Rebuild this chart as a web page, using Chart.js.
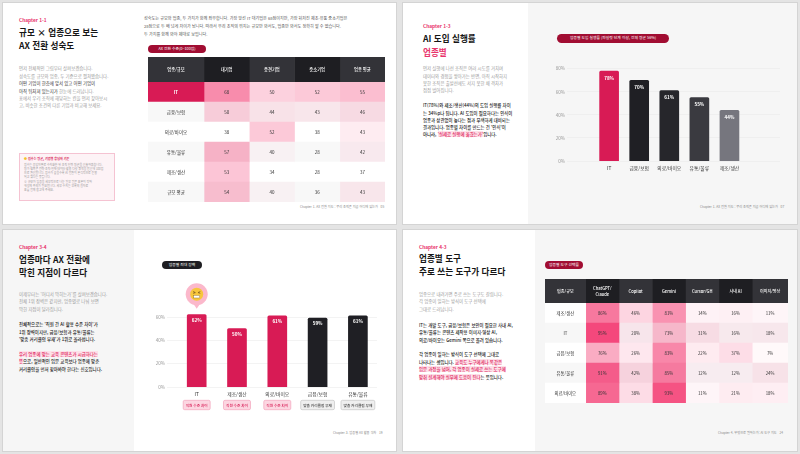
<!DOCTYPE html>
<html lang="ko">
<head>
<meta charset="utf-8">
<title>AX 전환 리포트 - 업종별 비교</title>
<script src="https://cdn.jsdelivr.net/npm/chart.js"></script>
<style>
  body { margin:0; width:800px; height:454px; background:#e4e4e4; position:relative; overflow:hidden;
         font-family:"Noto Sans CJK KR","Noto Sans",sans-serif; }
  .slide { position:absolute; background:#fff; border:1px solid #d4d4d4; box-sizing:border-box; }
  .shade { position:absolute; background:#f6f6f6; }
  .abs { position:absolute; white-space:nowrap; }
  .chap { font-size:4.8px; font-weight:700; color:#e8336b; line-height:6px; }
  .ttl { font-size:8.6px; font-weight:700; color:#151515; }
  .gray { font-size:4.4px; color:#9a9a9a; line-height:7.3px; }
  .bold { font-size:4.4px; color:#222; font-weight:500; line-height:7.3px; }
  .dark { color:#333; }
  .hl { background:#fde1e9; color:#e0245e; }
  .pill { position:absolute; border-radius:5px; color:#fff; font-size:3.8px; text-align:center; white-space:nowrap; }
  .foot { font-size:3.2px; color:#8a8a8a; line-height:4px; }
  .note { position:absolute; left:19px; top:153px; width:96px; height:48px; box-sizing:border-box;
          background:#fdf3f6; border:0.6px solid #f5c3d2; }
  .note div { position:absolute; left:4px; white-space:nowrap; font-size:2.9px; color:#9a9a9a; line-height:4.1px; }
  canvas { position:absolute; }
</style>
</head>
<body>
  <!-- slide frames -->
  <div class="slide" style="left:2px;top:2px;width:395px;height:223px"></div>
  <div class="slide" style="left:402px;top:2px;width:396px;height:223px"></div>
  <div class="slide" style="left:2px;top:229px;width:395px;height:223px"></div>
  <div class="slide" style="left:402px;top:229px;width:396px;height:223px"></div>
  <div class="shade" style="left:528px;top:3px;width:269px;height:221px"></div>
  <div class="shade" style="left:3px;top:230px;width:131px;height:221px"></div>
  <div class="shade" style="left:535px;top:230px;width:262px;height:221px"></div>

  <!-- Chapter 1-1 -->
  <div class="abs chap" style="left:19px;top:17.3px">Chapter 1-1</div>
  <div class="abs ttl" style="left:19px;top:26px;line-height:12.7px">규모 × 업종으로 보는<br>AX 전환 성숙도</div>
  <div class="abs gray" style="left:19px;top:65.3px;line-height:7.4px">
    먼저 전체적인 그림부터 살펴보겠습니다.<br>
    성숙도를 규모와 업종, 두 기준으로 펼쳐봤습니다.<br>
    <span class="dark">어떤 기업이 한층에 앞서 있고 어떤 기업이</span><br>
    <span class="dark">아직 뒤처져 있는지가</span> 한눈에 드러납니다.<br>
    표에서 우리 조직에 해당하는 칸을 먼저 찾아보시<br>
    고, 비슷한 조건의 다른 기업과 비교해 보세요.
  </div>
  <div class="note">
    <div style="top:3px;color:#d81b55;font-weight:700;font-size:3.1px"><span style="color:#f5c02f">●</span> 점수는 평균, 기업별 응답자 기준</div>
    <div style="top:9.2px">점수는 응답자별로 수치화한 뒤 조직 단위 평균을 산출하였습니다.</div>
    <div style="top:13.2px">평가 항목은 전략·조직·인재·데이터·활용 다섯 영역을 합산해 100점</div>
    <div style="top:17.2px">으로 환산합니다. 점수가 높을수록 AI 전환이 본격적으로 진행</div>
    <div style="top:21.2px">되고 있다는 뜻입니다.</div>
    <div style="top:26.2px">※ 규모와 업종을 세부적으로 나눈 일부 칸은 표본이 작아</div>
    <div style="top:30.2px">해석에 주의가 필요합니다. 세부 수치는 부록의 원자료</div>
    <div style="top:34.2px">표를 함께 참고해 주세요.</div>
  </div>
  <div class="abs gray" style="left:144px;top:15.2px;line-height:7.7px;color:#555;font-size:4.1px">
    성숙도는 규모와 업종, 두 가지가 함께 좌우합니다. 가장 앞선 IT 대기업은 68점이지만, 가장 뒤처진 제조·유통 중소기업은<br>
    28점으로 두 배 넘게 차이가 납니다. 따라서 우리 조직의 위치는 규모만 봐서도, 업종만 봐서도 정확히 알 수 없습니다.<br>
    두 가지를 함께 봐야 제대로 보입니다.
  </div>
  <div class="pill" style="left:148px;top:45px;width:58px;height:8px;line-height:8px;background:#a10d32">AX 전환 수준(0~100점)</div>
  <canvas id="sizeHead" width="237" height="25" style="left:148px;top:57px"></canvas>
  <canvas id="sizeBody" width="237" height="120" style="left:148px;top:82px"></canvas>
  <div class="abs foot" style="left:300px;top:204.7px">Chapter 1. AX 전환 지도 : 우리 조직은 지금 어디에 있는가 &nbsp;&nbsp;05</div>

  <!-- Chapter 1-3 -->
  <div class="abs chap" style="left:423px;top:22.7px">Chapter 1-3</div>
  <div class="abs ttl" style="left:423px;top:30.7px;line-height:14px">AI 도입 실행률<br><span style="color:#e8336b">업종별</span></div>
  <div class="abs gray" style="left:423px;top:65.3px">
    먼저 실행에 나선 조직은 여러 시도를 거치며<br>
    데이터와 경험을 쌓아가는 반면, 아직 시작하지<br>
    못한 조직은 출발선에도 서지 못한 채 격차가<br>
    점점 벌어집니다.
  </div>
  <div class="abs bold" style="left:423px;top:102.3px">
    IT(78%)와 제조/생산(44%)의 도입 실행률 차이<br>
    는 34%p나 됩니다. AI 도입이 필요하다는 인식이<br>
    업종과 상관없이 높다는 점과 무색하게 대비되는<br>
    결과입니다. 업종별 차이를 만드는 건 '인식'이<br>
    아니라, <span class="hl">'실제로 실행에 옮겼는가'</span>입니다.
  </div>
  <div class="pill" style="left:557px;top:34.3px;width:112px;height:8.4px;line-height:8.4px;background:#a10d32">업종별 도입 실행률 (파일럿 단계 이상, 전체 평균 56%)</div>
  <canvas id="adoptChart" width="235" height="120" style="left:550px;top:55px"></canvas>
  <div class="abs foot" style="left:700px;top:204.7px">Chapter 1. AX 전환 지도 : 우리 조직은 지금 어디에 있는가 &nbsp;&nbsp;07</div>

  <!-- Chapter 3-4 -->
  <div class="abs chap" style="left:19px;top:244.3px">Chapter 3-4</div>
  <div class="abs ttl" style="left:19px;top:253px;line-height:12.7px">업종마다 AX 전환에<br>막힌 지점이 다르다</div>
  <div class="abs gray" style="left:19px;top:291px">
    이제부터는 '어디서 막히는가'를 살펴보겠습니다.<br>
    전체 1위 장벽은 같지만, 업종별로 나눠 보면<br>
    막힌 지점이 달라집니다.
  </div>
  <div class="abs bold" style="left:19px;top:321.3px">
    전체적으로는 '직원 간 AI 활용 수준 차이'가<br>
    1위 장벽이지만, 금융/보험과 유통/물류는<br>
    '맞춤 커리큘럼 부재'가 1위로 올라섭니다.
  </div>
  <div class="abs bold" style="left:19px;top:350.5px;line-height:7.7px">
    <span class="hl">우리 업종에 맞는 교육 콘텐츠가 시급하다는</span><br>
    <span class="hl">뜻</span>으로, 일반적인 입문 교육보다 업종에 맞춘<br>
    커리큘럼을 먼저 찾아봐야 한다는 신호입니다.
  </div>
  <div class="pill" style="left:162px;top:261.3px;width:40px;height:8px;line-height:8px;background:#1e1e22">업종별 최대 장벽</div>
  <canvas id="barrierChart" width="230" height="135" style="left:150px;top:280px"></canvas>
  <div class="abs foot" style="left:333px;top:431px">Chapter 3. 업종별 AX 활용 격차 &nbsp;&nbsp;19</div>

  <!-- Chapter 4-3 -->
  <div class="abs chap" style="left:419px;top:244px">Chapter 4-3</div>
  <div class="abs ttl" style="left:419px;top:252px;line-height:13.3px">업종별 도구<br>주로 쓰는 도구가 다르다</div>
  <div class="abs gray" style="left:419px;top:291px">
    업종으로 내려가면 주로 쓰는 도구도 갈립니다.<br>
    각 업종이 일하는 방식이 도구 선택에<br>
    그대로 드러납니다.
  </div>
  <div class="abs bold" style="left:419px;top:322px">
    IT는 개발 도구, 금융/보험은 보안이 필요한 사내 AI,<br>
    유통/물류는 콘텐츠 제작용 이미지·영상 AI,<br>
    의료/바이오는 Gemini 쪽으로 몰려 있습니다.
  </div>
  <div class="abs bold" style="left:419px;top:351px;line-height:7.55px">
    각 업종이 일하는 방식이 도구 선택에 그대로<br>
    나타나는 셈입니다. <span class="hl">교육도 누구에게나 똑같은</span><br>
    <span class="hl">입문 과정을 넘어, 각 업종이 실제로 쓰는 도구에</span><br>
    <span class="hl">맞춰 설계해야 실무에 도움이 된다</span>는 뜻입니다.
  </div>
  <div class="pill" style="left:545px;top:261.3px;width:38px;height:8px;line-height:8px;background:#a10d32">업종별 도구 선택률</div>
  <canvas id="toolHead" width="243" height="24" style="left:545px;top:279px"></canvas>
  <canvas id="toolBody" width="243" height="100" style="left:545px;top:303px"></canvas>
  <div class="abs foot" style="left:718px;top:431px">Chapter 4. 무엇으로 일하는가: AI 도구 지도 &nbsp;&nbsp;24</div>

<script>
  // Chapter 1-1: AX maturity score by industry x company size
  const sizeCols = ['대기업', '중견기업', '중소기업', '업종 평균'];
  const sizeRows = ['IT', '금융/보험', '의료/바이오', '유통/물류', '제조/생산', '규모 평균'];
  const sizeScores = [
    [68, 50, 52, 55],
    [50, 44, 43, 46],
    [38, 52, 38, 43],
    [57, 40, 28, 42],
    [53, 34, 28, 37],
    [54, 40, 36, 43]
  ];

  // Chapter 1-3: adoption rate (pilot stage or beyond)
  const adoptInd = ['IT', '금융/보험', '의료/바이오', '유통/물류', '제조/생산'];
  const adoptRate = [78, 70, 61, 55, 44];

  // Chapter 3-4: share naming the top barrier
  const barrierInd = ['IT', '제조/생산', '의료/바이오', '금융/보험', '유통/물류'];
  const barrierRate = [62, 50, 61, 59, 61];
  const barrierType = ['직원 수준 차이', '직원 수준 차이', '직원 수준 차이', '맞춤 커리큘럼 부재', '맞춤 커리큘럼 부재'];

  // Chapter 4-3: tool usage by industry (%)
  const toolCols = ['ChatGPT/\nClaude', 'Copilot', 'Gemini', 'Cursor/GH', '사내 AI', '이미지/영상'];
  const toolRows = ['제조/생산', 'IT', '금융/보험', '유통/물류', '의료/바이오'];
  const toolShare = [
    [86, 46, 81, 14, 16, 11],
    [95, 20, 73, 31, 16, 18],
    [76, 26, 83, 22, 37, 7],
    [91, 42, 85, 12, 12, 24],
    [89, 38, 93, 11, 21, 18]
  ];

  const FONT = '"Noto Sans CJK KR", "Noto Sans", sans-serif';
  Chart.defaults.font.family = FONT;
  Chart.defaults.animation = false;
  Chart.defaults.plugins.legend.display = false;
  Chart.defaults.plugins.tooltip.enabled = false;

  const PINK = [244, 63, 117];
  function tint(base, t) {
    const b = [1, 3, 5].map(i => parseInt(base.slice(i, i + 2), 16));
    const c = b.map((v, k) => Math.round(v + (PINK[k] - v) * Math.max(0, Math.min(1, t))));
    return `rgb(${c.join(',')})`;
  }
  const headBg = c => (c % 2 === 0 ? '#333338' : '#1e1e22');

  // a table drawn as stacked horizontal bars: one dataset per column
  function gridChart(id, rows, weights, cell, fontSize) {
    const total = weights.reduce((a, b) => a + b, 0);
    return new Chart(document.getElementById(id), {
      type: 'bar',
      data: {
        labels: rows,
        datasets: weights.map((w, c) => ({
          data: rows.map(() => w),
          backgroundColor: rows.map((_, r) => cell(r, c).bg),
          borderWidth: 0,
          categoryPercentage: 1,
          barPercentage: 1
        }))
      },
      options: {
        indexAxis: 'y',
        responsive: false,
        layout: { padding: 0 },
        scales: {
          x: { stacked: true, display: false, min: 0, max: total },
          y: { stacked: true, display: false }
        }
      },
      plugins: [{
        id: 'cellText',
        afterDatasetsDraw(chart) {
          const ctx = chart.ctx;
          ctx.save();
          ctx.textAlign = 'center';
          ctx.textBaseline = 'middle';
          chart.data.datasets.forEach((ds, c) => {
            chart.getDatasetMeta(c).data.forEach((el, r) => {
              const s = cell(r, c);
              const cx = (el.x + el.base) / 2;
              const lines = String(s.text).split('\n');
              ctx.font = `${s.weight || 400} ${fontSize}px ${FONT}`;
              ctx.fillStyle = s.color;
              lines.forEach((ln, k) => {
                ctx.fillText(ln, cx, el.y + (k - (lines.length - 1) / 2) * (fontSize + 2));
              });
            });
          });
          ctx.restore();
        }
      }]
    });
  }

  // Chapter 1-1 table
  const sizeHeads = ['업종/규모', ...sizeCols];
  gridChart('sizeHead', ['head'], [56, 45.25, 45.25, 45.25, 45.25],
    (r, c) => ({ bg: headBg(c), text: sizeHeads[c], color: '#fff', weight: 500 }), 4.3);
  gridChart('sizeBody', sizeRows, [56, 45.25, 45.25, 45.25, 45.25], (r, c) => {
    const base = r % 2 === 1 || r === 5 ? '#f8f8f8' : '#ffffff';
    if (c === 0) {
      return r === 0
        ? { bg: '#d81b55', text: sizeRows[r], color: '#fff', weight: 700 }
        : { bg: base, text: sizeRows[r], color: '#333' };
    }
    const v = sizeScores[r][c - 1];
    return { bg: tint(base, v >= 38 ? (v - 38) / 30 * 0.6 : 0), text: v, color: '#333' };
  }, 4.5);

  // Chapter 4-3 table
  const toolHeads = ['업종/규모', ...toolCols];
  const toolWeights = [40.7, 33.3, 33.3, 33.3, 33.3, 33.3, 35.8];
  gridChart('toolHead', ['head'], toolWeights,
    (r, c) => ({ bg: headBg(c), text: toolHeads[c], color: '#fff', weight: 500 }), 4.1);
  gridChart('toolBody', toolRows, toolWeights, (r, c) => {
    const base = r % 2 === 1 ? '#f7f7f7' : '#ffffff';
    if (c === 0) return { bg: base, text: toolRows[r], color: '#333' };
    const v = toolShare[r][c - 1];
    const t = v >= 73 ? 0.35 + (v - 73) / 22 * 0.6 : v / 73 * 0.35;
    return { bg: tint(base, t), text: v + '%', color: '#333' };
  }, 4.3);

  function valueLabels(offset) {
    return {
      id: 'valueLabels',
      afterDatasetsDraw(chart) {
        const ctx = chart.ctx;
        const ds = chart.data.datasets[0];
        ctx.save();
        ctx.font = `700 4.6px ${FONT}`;
        ctx.fillStyle = '#fff';
        ctx.textAlign = 'center';
        ctx.textBaseline = 'middle';
        chart.getDatasetMeta(0).data.forEach((bar, i) => {
          ctx.fillText(ds.data[i].y + '%', bar.x, bar.y + offset);
        });
        ctx.restore();
      }
    };
  }

  // index axis on a linear scale so the bars can sit inside a wider grid
  function indexAxis(names, min, max, height) {
    return {
      type: 'linear', min: min, max: max, offset: false,
      grid: { display: false, drawTicks: false }, border: { display: false },
      afterBuildTicks: s => { s.ticks = names.map((_, i) => ({ value: i })); },
      afterFit: s => { s.height = height; },
      ticks: { padding: 4, maxRotation: 0, autoSkip: false, font: { size: 4.8 }, color: '#333',
               callback: v => names[v] }
    };
  }
  function pctAxis(max) {
    return {
      min: 0, max: max,
      afterBuildTicks: s => { s.ticks = s.ticks.filter(t => t.value % 20 === 0); },
      afterFit: s => { s.width = 17; },
      grid: { color: '#ebebeb', lineWidth: 0.6, drawTicks: false },
      border: { display: false },
      ticks: { stepSize: 20, padding: 2, font: { size: 4.6 }, color: '#9a9a9a', callback: v => v + '%' }
    };
  }

  // Chapter 1-3 bar chart
  new Chart(document.getElementById('adoptChart'), {
    type: 'bar',
    data: {
      datasets: [{
        data: adoptInd.map((n, i) => ({ x: i, y: adoptRate[i] })),
        backgroundColor: ['#d81b55', '#1f1f24', '#26262b', '#3a3a40', '#76767e'],
        barThickness: 19,
        borderRadius: 1.5
      }]
    },
    options: {
      responsive: false,
      layout: { padding: { top: 6.8, right: 5, bottom: 0, left: 0 } },
      scales: { x: indexAxis(adoptInd, -1.4, 5.68, 14), y: pctAxis(86) }
    },
    plugins: [valueLabels(7)]
  });

  // Chapter 3-4 bar chart with barrier tags and a face bubble over IT
  new Chart(document.getElementById('barrierChart'), {
    type: 'bar',
    data: {
      datasets: [{
        data: barrierInd.map((n, i) => ({ x: i, y: barrierRate[i] })),
        backgroundColor: barrierType.map(t => (t === barrierType[0] ? '#d81b55' : '#1f1f24')),
        barThickness: 19,
        borderRadius: 1.5
      }]
    },
    options: {
      responsive: false,
      layout: { padding: { top: 30, right: 3, bottom: 0, left: 0 } },
      scales: { x: indexAxis(barrierInd, -0.737, 4.474, 28), y: pctAxis(66) }
    },
    plugins: [valueLabels(5.5), {
      id: 'tags',
      afterDraw(chart) {
        const ctx = chart.ctx;
        const xs = chart.scales.x;
        const y0 = chart.chartArea.bottom + 13.3;
        ctx.save();
        ctx.font = `500 3.7px ${FONT}`;
        ctx.textAlign = 'center';
        ctx.textBaseline = 'middle';
        barrierType.forEach((t, i) => {
          const pink = t === barrierType[0];
          const cx = xs.getPixelForValue(i);
          const w = ctx.measureText(t).width + 5;
          ctx.beginPath();
          ctx.roundRect(cx - w / 2, y0, w, 9.4, 1.5);
          ctx.fillStyle = pink ? '#fcd6e1' : '#efefef';
          ctx.fill();
          ctx.lineWidth = 0.6;
          ctx.strokeStyle = pink ? '#f29ab5' : '#bdbdbd';
          ctx.stroke();
          ctx.fillStyle = pink ? '#d81b55' : '#444';
          ctx.fillText(t, cx, y0 + 4.9);
        });
        // face bubble above the first bar
        const bar = chart.getDatasetMeta(0).data[0];
        const cx = bar.x, cy = bar.y - 20.5;
        ctx.fillStyle = '#fbb8cb';
        ctx.beginPath(); ctx.arc(cx, cy, 11, 0, Math.PI * 2); ctx.fill();
        ctx.beginPath(); ctx.moveTo(cx - 3, cy + 10); ctx.lineTo(cx, cy + 14.5); ctx.lineTo(cx + 3, cy + 10); ctx.fill();
        ctx.fillStyle = '#f7c63c';
        ctx.beginPath(); ctx.arc(cx, cy, 6.5, 0, Math.PI * 2); ctx.fill();
        ctx.strokeStyle = '#6b4a1a'; ctx.lineWidth = 0.7;
        ctx.beginPath(); ctx.moveTo(cx - 3.6, cy - 2.6); ctx.lineTo(cx - 1.4, cy - 1.6); ctx.lineTo(cx - 3.6, cy - 0.8); ctx.stroke();
        ctx.beginPath(); ctx.moveTo(cx + 3.6, cy - 2.6); ctx.lineTo(cx + 1.4, cy - 1.6); ctx.lineTo(cx + 3.6, cy - 0.8); ctx.stroke();
        ctx.fillStyle = '#fff';
        ctx.fillRect(cx - 3, cy + 1.2, 6, 2.6);
        ctx.lineWidth = 0.4; ctx.strokeStyle = '#8a6a2a';
        ctx.strokeRect(cx - 3, cy + 1.2, 6, 2.6);
        ctx.restore();
      }
    }]
  });
</script>
</body>
</html>
